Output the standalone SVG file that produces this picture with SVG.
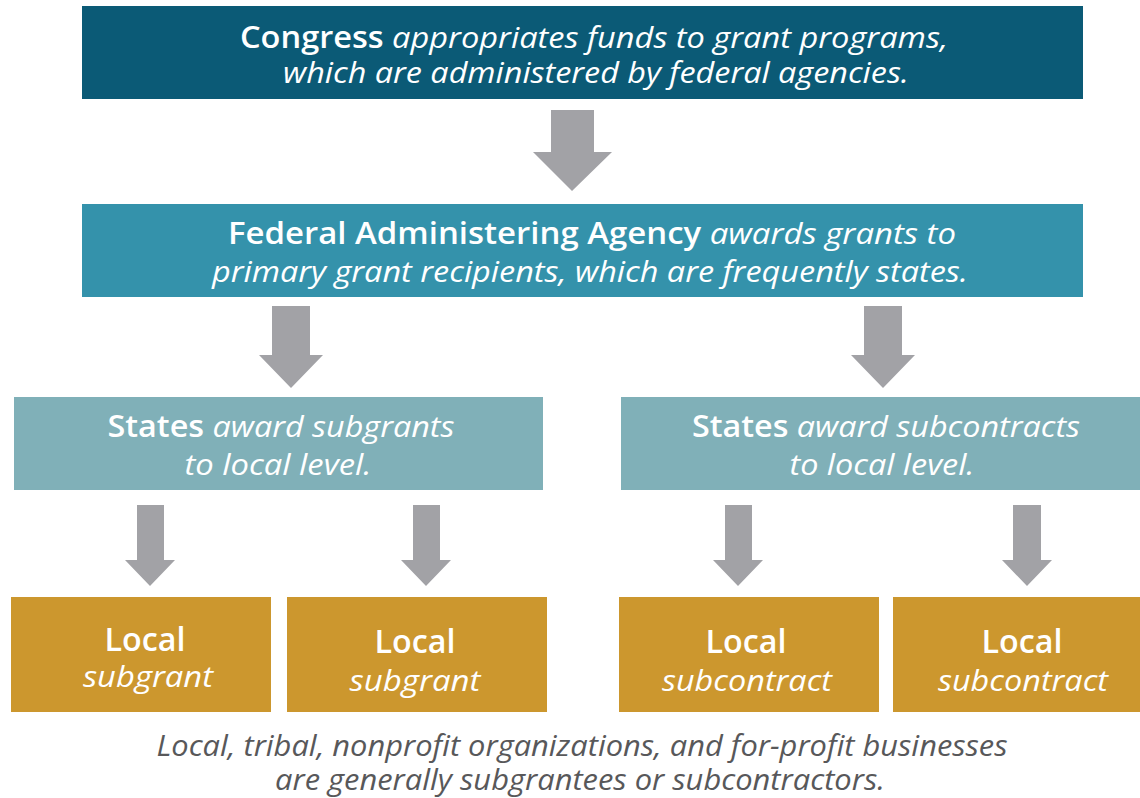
<svg xmlns="http://www.w3.org/2000/svg" width="1140" height="798" viewBox="0 0 1140 798">
<style>
text{font-family:"Open Sans","Noto Sans","Liberation Sans",sans-serif;text-anchor:middle;fill:#ffffff}
.b{font-weight:600}
.i{font-style:italic}
.t{font-size:30px}
.loc{font-size:32px}
.foot{fill:#58585a;font-size:29px;font-style:italic}
.arr{fill:#a2a2a6}
</style>
<rect width="1140" height="798" fill="#ffffff"/>
<g id="connectors">
<polygon class="arr" points="551,110 594,110 594,152 612,152 572,191 533,152 551,152"/>
<polygon class="arr" points="272,306 310,306 310,355 323,355 291,388 259,355 272,355"/>
<polygon class="arr" points="864,306 902,306 902,355 915,355 883,388 851,355 864,355"/>
<polygon class="arr" points="137,505 164,505 164,560 175,560 150,586 125,560 137,560"/>
<polygon class="arr" points="413,505 440,505 440,560 451,560 426,586 401,560 413,560"/>
<polygon class="arr" points="725,505 752,505 752,560 763,560 738,586 713,560 725,560"/>
<polygon class="arr" points="1013,505 1041,505 1041,560 1052,560 1027,586 1002,560 1013,560"/>
</g>
<g id="congress">
<rect x="82" y="6" width="1001" height="93" fill="#0b5a76"/>
<text class="t" x="594" y="48" textLength="708" lengthAdjust="spacingAndGlyphs"><tspan class="b">Congress</tspan><tspan class="i"> appropriates funds to grant programs,</tspan></text>
<text class="t i" x="596" y="83" textLength="626" lengthAdjust="spacingAndGlyphs">which are administered by federal agencies.</text>
</g>
<g id="agency">
<rect x="82" y="204" width="1001" height="93" fill="#3492ab"/>
<text class="t" x="592" y="244" textLength="728" lengthAdjust="spacingAndGlyphs"><tspan class="b">Federal Administering Agency</tspan><tspan class="i"> awards grants to</tspan></text>
<text class="t i" x="590" y="282" textLength="756" lengthAdjust="spacingAndGlyphs">primary grant recipients, which are frequently states.</text>
</g>
<g id="states-subgrants">
<rect x="14" y="397" width="529" height="93" fill="#80b0b8"/>
<text class="t" x="281" y="437" textLength="347" lengthAdjust="spacingAndGlyphs"><tspan class="b">States</tspan><tspan class="i"> award subgrants</tspan></text>
<text class="t i" x="278" y="475" textLength="187" lengthAdjust="spacingAndGlyphs">to local level.</text>
</g>
<g id="states-subcontracts">
<rect x="621" y="397" width="519" height="93" fill="#80b0b8"/>
<text class="t" x="886" y="437" textLength="388" lengthAdjust="spacingAndGlyphs"><tspan class="b">States</tspan><tspan class="i"> award subcontracts</tspan></text>
<text class="t i" x="882" y="475" textLength="185" lengthAdjust="spacingAndGlyphs">to local level.</text>
</g>
<g id="local-subgrant-1">
<rect x="11" y="597" width="260" height="115" fill="#cc972e"/>
<text class="loc b" x="145" y="651" textLength="81" lengthAdjust="spacingAndGlyphs">Local</text>
<text class="t i" x="148" y="687" textLength="130" lengthAdjust="spacingAndGlyphs">subgrant</text>
</g>
<g id="local-subgrant-2">
<rect x="287" y="597" width="260" height="115" fill="#cc972e"/>
<text class="loc b" x="415" y="653" textLength="81" lengthAdjust="spacingAndGlyphs">Local</text>
<text class="t i" x="415" y="691" textLength="131" lengthAdjust="spacingAndGlyphs">subgrant</text>
</g>
<g id="local-subcontract-1">
<rect x="619" y="597" width="260" height="115" fill="#cc972e"/>
<text class="loc b" x="746" y="653" textLength="81" lengthAdjust="spacingAndGlyphs">Local</text>
<text class="t i" x="747" y="691" textLength="170" lengthAdjust="spacingAndGlyphs">subcontract</text>
</g>
<g id="local-subcontract-2">
<rect x="893" y="597" width="247" height="115" fill="#cc972e"/>
<text class="loc b" x="1022" y="653" textLength="81" lengthAdjust="spacingAndGlyphs">Local</text>
<text class="t i" x="1023" y="691" textLength="170" lengthAdjust="spacingAndGlyphs">subcontract</text>
</g>
<g id="footnote">
<text class="foot" x="582" y="756" textLength="851" lengthAdjust="spacingAndGlyphs">Local, tribal, nonprofit organizations, and for-profit businesses</text>
<text class="foot" x="580" y="790" textLength="610" lengthAdjust="spacingAndGlyphs">are generally subgrantees or subcontractors.</text>
</g>
</svg>
